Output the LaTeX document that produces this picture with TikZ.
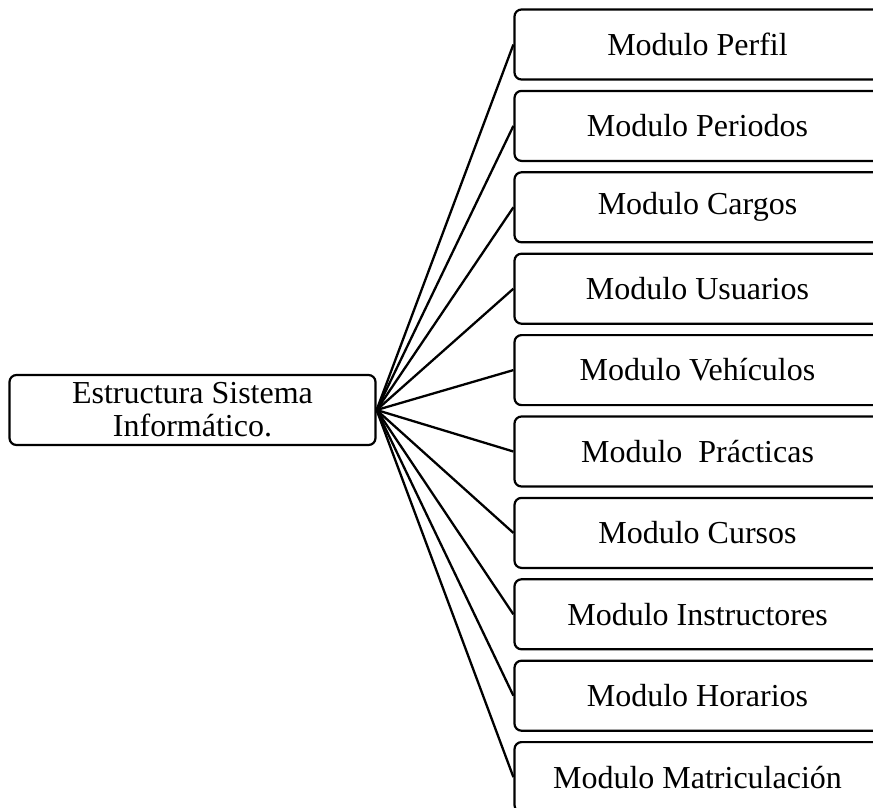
\documentclass[tikz,border=0pt]{standalone}
\usepackage{fontspec}
\setmainfont{Liberation Serif}
\begin{document}
\begin{tikzpicture}[x=1pt,y=-1pt,
  box/.style={draw=black,line width=2.2pt,rounded corners=7pt,minimum width=366pt,minimum height=70pt,
    inner sep=0pt,align=center,font=\fontsize{32}{33}\selectfont},
  conn/.style={draw=black,line width=2.3pt}]
\useasboundingbox (0,0) rectangle (873,807);
\clip (0,0) rectangle (873,807);
\node[box] (root) at (192.5,410) {Estructura Sistema\\Informático.};
\node[box] (m1) at (697.5,44.5) {Modulo Perfil};
\node[box] (m2) at (697.5,125.9) {Modulo Periodos};
\node[box] (m3) at (697.5,207.3) {Modulo Cargos};
\node[box] (m4) at (697.5,288.7) {Modulo Usuarios};
\node[box] (m5) at (697.5,370.1) {Modulo Vehículos};
\node[box] (m6) at (697.5,451.5) {Modulo\ \ Prácticas};
\node[box] (m7) at (697.5,532.9) {Modulo Cursos};
\node[box] (m8) at (697.5,614.3) {Modulo Instructores};
\node[box] (m9) at (697.5,695.7) {Modulo Horarios};
\node[box] (m10) at (697.5,777.1) {Modulo Matriculación};
\foreach \i in {1,...,10}{
  \draw[conn] (root.east) -- (m\i.west);
}
\end{tikzpicture}
\end{document}
